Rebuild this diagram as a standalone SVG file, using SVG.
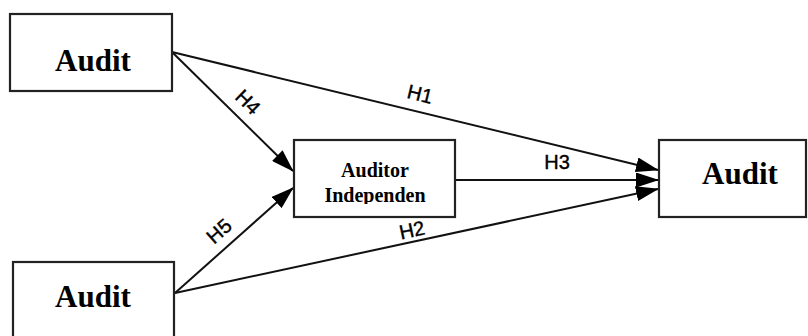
<svg xmlns="http://www.w3.org/2000/svg" width="808" height="336" viewBox="0 0 808 336">
  <style>
    .box { fill: #ffffff; stroke: #222222; stroke-width: 2.2; }
    .big { font-family: "Liberation Serif", "Times New Roman", serif; font-weight: bold; font-size: 31px; fill: #000000; text-anchor: middle; }
    .mid { font-family: "Liberation Serif", "Times New Roman", serif; font-weight: bold; font-size: 20px; fill: #000000; text-anchor: middle; }
    .edge { stroke: #111111; stroke-width: 2; fill: none; marker-end: url(#head); }
    .lbl { font-family: "Liberation Sans", Arial, sans-serif; font-size: 20px; fill: #000000; stroke: #000000; stroke-width: 0.4; text-anchor: middle; }
  </style>
  <defs>
    <marker id="head" markerUnits="userSpaceOnUse" markerWidth="23" markerHeight="15" refX="22" refY="7.5" orient="auto">
      <path d="M0,0 L23,7.5 L0,15 Z" fill="#000000"/>
    </marker>
    <clipPath id="midClip">
      <rect x="294" y="140" width="161" height="64"/>
    </clipPath>
  </defs>
  <rect width="808" height="336" fill="#ffffff"/>

  <g id="connectors">
    <line class="edge" x1="172" y1="52" x2="658" y2="170"/>
    <line class="edge" x1="172" y1="52" x2="293" y2="171"/>
    <line class="edge" x1="175" y1="293" x2="293" y2="188"/>
    <line class="edge" x1="455" y1="180" x2="658" y2="180"/>
    <line class="edge" x1="175" y1="293" x2="658" y2="189"/>
    <text class="lbl" transform="translate(420,94) rotate(13.6)" y="7">H1</text>
    <text class="lbl" transform="translate(248,102) rotate(44.5)" y="7">H4</text>
    <text class="lbl" transform="translate(557,162)" y="7">H3</text>
    <text class="lbl" transform="translate(412,230) rotate(-12.2)" y="7">H2</text>
    <text class="lbl" transform="translate(219,231) rotate(-41.7)" y="7">H5</text>
  </g>

  <g id="audit-top">
    <rect class="box" x="10" y="14" width="162" height="77"/>
    <text class="big" x="93" y="71">Audit</text>
  </g>

  <g id="audit-bottom">
    <rect class="box" x="13" y="262" width="161" height="90"/>
    <text class="big" x="93" y="307">Audit</text>
  </g>

  <g id="auditor-independen">
    <rect class="box" x="294" y="140" width="161" height="77"/>
    <g clip-path="url(#midClip)">
      <text class="mid" x="375" y="177">Auditor</text>
      <text class="mid" x="375" y="202">Independen</text>
    </g>
  </g>

  <g id="audit-right">
    <rect class="box" x="659" y="140" width="147" height="77"/>
    <text class="big" x="740" y="184">Audit</text>
  </g>
</svg>
